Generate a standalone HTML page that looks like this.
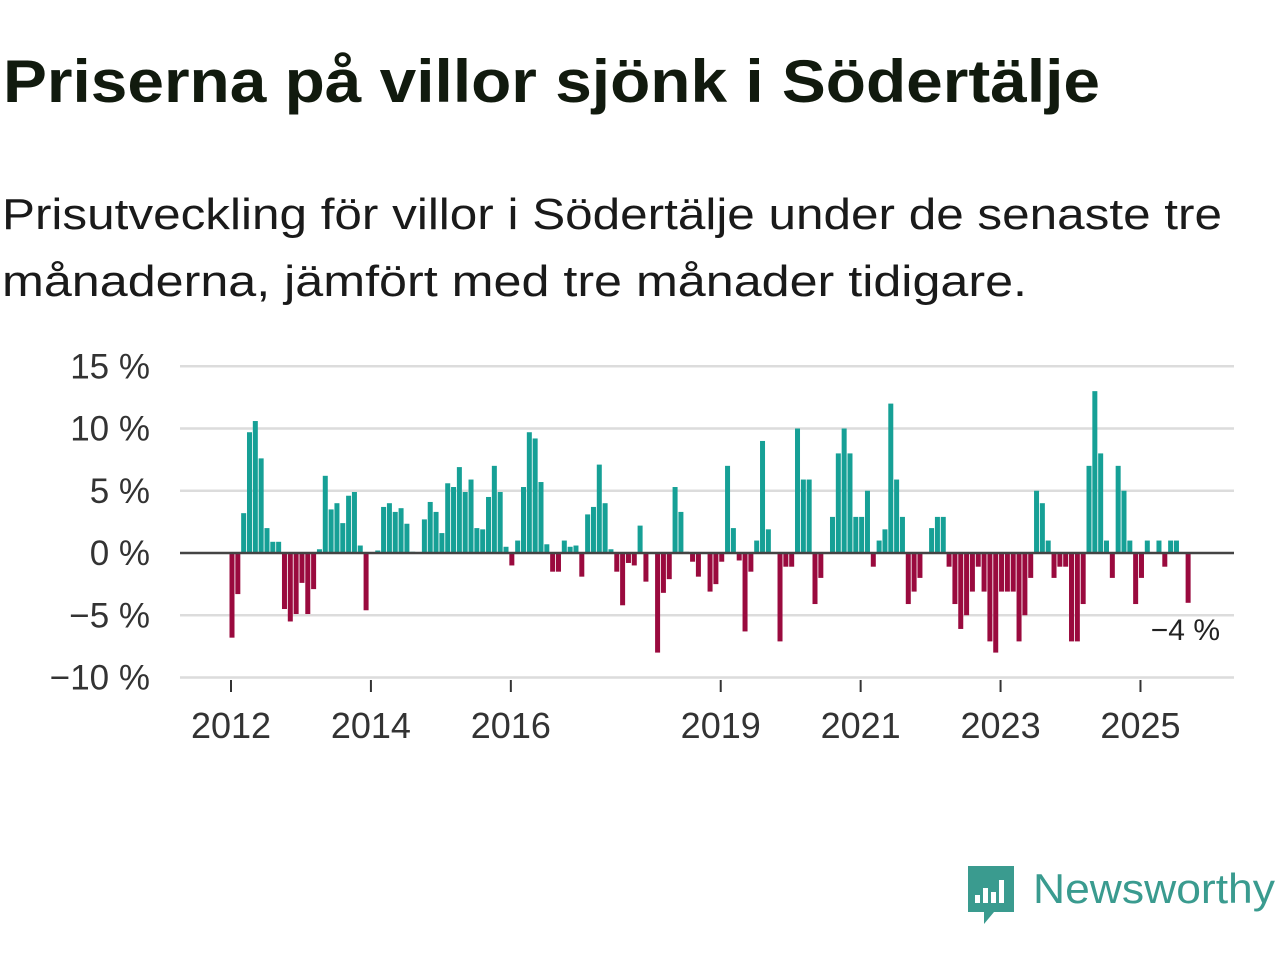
<!DOCTYPE html>
<html><head><meta charset="utf-8"><style>
html,body{margin:0;padding:0;background:#fff;}
svg{display:block;font-family:"Liberation Sans",sans-serif;}
</style></head><body>
<svg id="chart" width="1280" height="960" viewBox="0 0 1280 960" xmlns="http://www.w3.org/2000/svg">
<text x="3" y="102" font-size="60" font-weight="bold" fill="#111a0e" textLength="1097" lengthAdjust="spacingAndGlyphs">Priserna på villor sjönk i Södertälje</text>
<text x="2" y="229" font-size="44" fill="#1a1a1a" textLength="1220" lengthAdjust="spacingAndGlyphs">Prisutveckling för villor i Södertälje under de senaste tre</text>
<text x="2" y="296" font-size="44" fill="#1a1a1a" textLength="1025" lengthAdjust="spacingAndGlyphs">månaderna, jämfört med tre månader tidigare.</text>
<g id="grid"></g>
<g id="bars"></g>
<g id="axes"></g>
<text x="1220" y="640" font-size="30" fill="#222" text-anchor="end">−4 %</text>
<g>
  <path d="M968 866 h46 v46 h-20 l-10 12 v-12 h-16 z" fill="#3a9b8f"/>
  <rect x="975" y="895" width="5" height="8" fill="#fff"/>
  <rect x="983" y="888" width="5" height="15" fill="#fff"/>
  <rect x="991" y="892" width="5" height="11" fill="#fff"/>
  <rect x="999" y="880" width="5" height="23" fill="#fff"/>
  <text x="1033" y="903" font-size="42" fill="#3a9b8f" textLength="242" lengthAdjust="spacingAndGlyphs">Newsworthy</text>
</g>
</svg>
<script>
const values = [-6.8,-3.3,3.2,9.7,10.6,7.6,2.0,0.9,0.9,-4.5,-5.5,-4.9,
-2.4,-4.9,-2.9,0.3,6.2,3.5,4.0,2.4,4.6,4.9,0.6,-4.6,
0,0.2,3.7,4.0,3.3,3.6,2.35,0.1,0,2.7,4.1,3.3,
1.6,5.6,5.3,6.9,4.9,5.9,2.0,1.9,4.5,7.0,4.9,0.5,
-1.0,1.0,5.3,9.7,9.2,5.7,0.7,-1.5,-1.5,1.0,0.5,0.6,
-1.9,3.1,3.7,7.1,4.0,0.3,-1.5,-4.2,-0.8,-1.0,2.2,-2.3,
0,-8.0,-3.2,-2.1,5.3,3.3,0.1,-0.7,-1.9,0,-3.1,-2.5,
-0.7,7.0,2.0,-0.6,-6.3,-1.5,1.0,9.0,1.9,0,-7.1,-1.1,
-1.1,10.0,5.9,5.9,-4.1,-2.0,0,2.9,8.0,10.0,8.0,2.9,
2.9,5.0,-1.1,1.0,1.9,12.0,5.9,2.9,-4.1,-3.1,-2.0,0,
2.0,2.9,2.9,-1.1,-4.1,-6.1,-5.0,-3.1,-1.1,-3.1,-7.1,-8.0,
-3.1,-3.1,-3.1,-7.1,-5.0,-2.0,5.0,4.0,1.0,-2.0,-1.1,-1.1,
-7.1,-7.1,-4.1,7.0,13.0,8.0,1.0,-2.0,7.0,5.0,1.0,-4.1,
-2.0,1.0,0,1.0,-1.1,1.0,1.0,0,-4.0];
const yTicks = [15,10,5,0,-5,-10];
const yTickLabels = ["15 %","10 %","5 %","0 %","−5 %","−10 %"];
const xTickYears = [2012,2014,2016,2019,2021,2023,2025];
const startYear = 2012;

const NS="http://www.w3.org/2000/svg";
const X0=232, MONTH=5.83, Y0=553, PPP=12.45, LEFT=180, RIGHT=1234;
const xScale = i => X0 + i*MONTH;
const xYear = y => X0 + (y-startYear)*12*MONTH;
const yScale = v => Y0 - v*PPP;
function mk(tag, attrs, parent){const e=document.createElementNS(NS,tag);for(const k in attrs)e.setAttribute(k,attrs[k]);parent.appendChild(e);return e;}
const grid=document.getElementById('grid'), bars=document.getElementById('bars'), axes=document.getElementById('axes');
yTicks.forEach((t,k)=>{
  if(t!==0){
    const l=mk('line',{x1:LEFT,x2:RIGHT,y1:yScale(t),y2:yScale(t),stroke:'#dcdcdc','stroke-width':2.5},grid);
    
    
  }
  const tx=mk('text',{x:150,y:yScale(t)+12,'font-size':35,fill:'#333','text-anchor':'end'},axes);
  tx.textContent=yTickLabels[k];
  
  
});
values.forEach((v,i)=>{
  if(v===0) return;
  const y=yScale(Math.max(v,0)), h=Math.abs(v)*PPP;
  const r=mk('rect',{x:xScale(i)-2.5,y:y,width:5,height:h,fill:v>0?'#16a096':'#9a0a3e'},bars);
  
  
});
const zl=mk('line',{x1:LEFT,x2:RIGHT,y1:Y0,y2:Y0,stroke:'#444','stroke-width':2.5},axes);


xTickYears.forEach(yr=>{
  const x=xYear(yr)-1;
  const tk=mk('line',{x1:x,x2:x,y1:680,y2:692,stroke:'#333','stroke-width':2},axes);
  
  
  const tx=mk('text',{x:x,y:738,'font-size':36,fill:'#333','text-anchor':'middle'},axes);
  tx.textContent=String(yr);
  
  
});
</script>
</body></html>
